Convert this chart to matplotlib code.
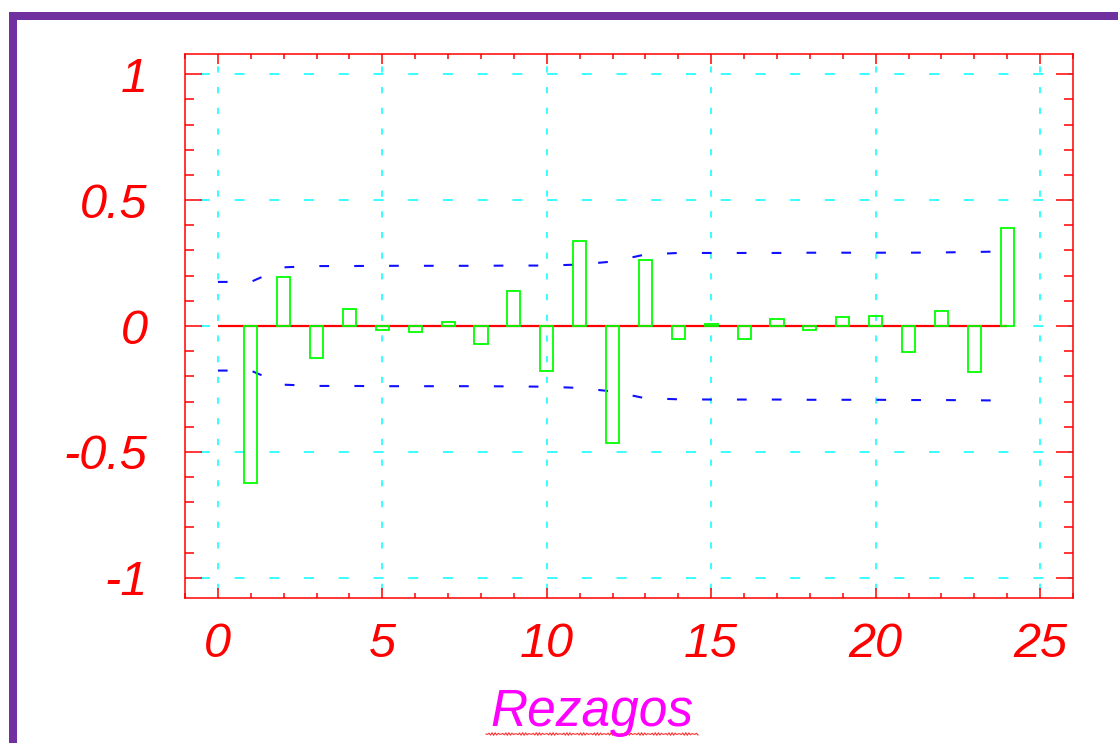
import numpy as np
import matplotlib
matplotlib.use("Agg")
import matplotlib.pyplot as plt
from matplotlib.ticker import MultipleLocator, FixedLocator, FixedFormatter
from matplotlib.lines import Line2D
from matplotlib.patches import Rectangle

# Sample autocorrelation by lag
lags = list(range(1, 25))
acf = [-0.625, 0.195, -0.128, 0.066, -0.016, -0.022, 0.015, -0.071, 0.140, -0.177,
       0.339, -0.463, 0.264, -0.053, 0.009, -0.053, 0.029, -0.016, 0.034, 0.041,
       -0.103, 0.059, -0.183, 0.388]

# Approximate 95% confidence band
band_lags = list(range(0, 25))
band_upper = [0.175, 0.175, 0.233, 0.238, 0.238, 0.239, 0.239, 0.239, 0.239, 0.240,
              0.240, 0.244, 0.256, 0.284, 0.290, 0.290, 0.290, 0.290, 0.291, 0.291,
              0.291, 0.291, 0.292, 0.294, 0.296]
band_lower = [-0.177, -0.177, -0.233, -0.238, -0.238, -0.239, -0.239, -0.239, -0.239, -0.240,
              -0.241, -0.246, -0.260, -0.287, -0.291, -0.292, -0.292, -0.292, -0.293, -0.293,
              -0.293, -0.294, -0.294, -0.295, -0.296]

xticks = [0, 5, 10, 15, 20, 25]
xtick_labels = ["0", "5", "10", "15", "20", "25"]
yticks = [-1, -0.5, 0, 0.5, 1]
ytick_labels = ["-1", "-0.5", "0", "0.5", "1"]
xlabel = "Rezagos"

plt.rcParams["lines.scale_dashes"] = False

W, H = 1118, 743
fig = plt.figure(figsize=(W / 100, H / 100), dpi=100)
fig.patch.set_facecolor("white")
ax = fig.add_axes([185 / W, 1 - 598 / H, (1073 - 185) / W, (598 - 54) / H])

RED = "#ff0000"
CYAN = "#00ffff"
GREEN = "#00ff00"
BLUE = "#1010ff"

ax.set_xlim(-1, 26)
ax.set_ylim(-1.08, 1.08)

# dashed grid, drawn by hand to get different dash lengths per direction
for y in yticks:
    ax.axhline(y, color=CYAN, lw=1.1, ls=(14.3, (7.2, 17.8)), zorder=1)
for x in xticks:
    ax.axvline(x, color=CYAN, lw=1.1, ls=(9.1, (4.5, 10.4)), zorder=1)

# zero reference line
ax.plot([band_lags[0], band_lags[-1]], [0, 0], color=RED, lw=1.6, zorder=2,
        solid_capstyle="butt")

# confidence band
ax.plot(band_lags, band_upper, color=BLUE, lw=1.5, ls=(0, (7.0, 18.1)), zorder=3)
ax.plot(band_lags, band_lower, color=BLUE, lw=1.5, ls=(0, (7.0, 18.1)), zorder=3)

# hollow bars
ax.bar(lags, acf, width=0.4, fill=False, edgecolor=GREEN, linewidth=1.3, zorder=4)

for s in ax.spines.values():
    s.set_color(RED)
    s.set_linewidth(1.1)

ax.xaxis.set_major_locator(FixedLocator(xticks))
ax.xaxis.set_major_formatter(FixedFormatter(xtick_labels))
ax.xaxis.set_minor_locator(MultipleLocator(1))
ax.yaxis.set_major_locator(FixedLocator(yticks))
ax.yaxis.set_major_formatter(FixedFormatter(ytick_labels))
ax.yaxis.set_minor_locator(MultipleLocator(0.1))

ax.tick_params(which="both", direction="in", top=True, right=True, color=RED,
               width=1.1, labelcolor=RED)
ax.tick_params(axis="x", which="major", length=7.0, pad=17)
ax.tick_params(axis="x", which="minor", length=3.6)
ax.tick_params(axis="y", which="major", length=12.0, pad=27)
ax.tick_params(axis="y", which="minor", length=6.5)

for lab in ax.get_xticklabels() + ax.get_yticklabels():
    lab.set_fontfamily("Liberation Sans")
    lab.set_fontstyle("italic")
    lab.set_fontsize(35)

# axis title with spell-check underline
fig.text(592 / W, 1 - 726 / H, xlabel, color="#ff00ff", fontsize=37,
         family="Liberation Sans", style="italic", ha="center", va="baseline")
sx = np.linspace(486, 698, 140)
sy = 734 + 1.3 * np.sin((sx - 486) / 3.4 * 2 * np.pi)
fig.add_artist(Line2D(sx / W, 1 - sy / H, transform=fig.transFigure,
                      color="#ff3030", lw=0.8))

# purple frame on top and left
fig.add_artist(Rectangle((9 / W, 0), 8 / W, 1 - 12 / H, transform=fig.transFigure,
                         color="#7030a0", lw=0))
fig.add_artist(Rectangle((9 / W, 1 - 20 / H), 1 - 9 / W, 8 / H,
                         transform=fig.transFigure, color="#7030a0", lw=0))

fig.savefig("out.png", dpi=100)
